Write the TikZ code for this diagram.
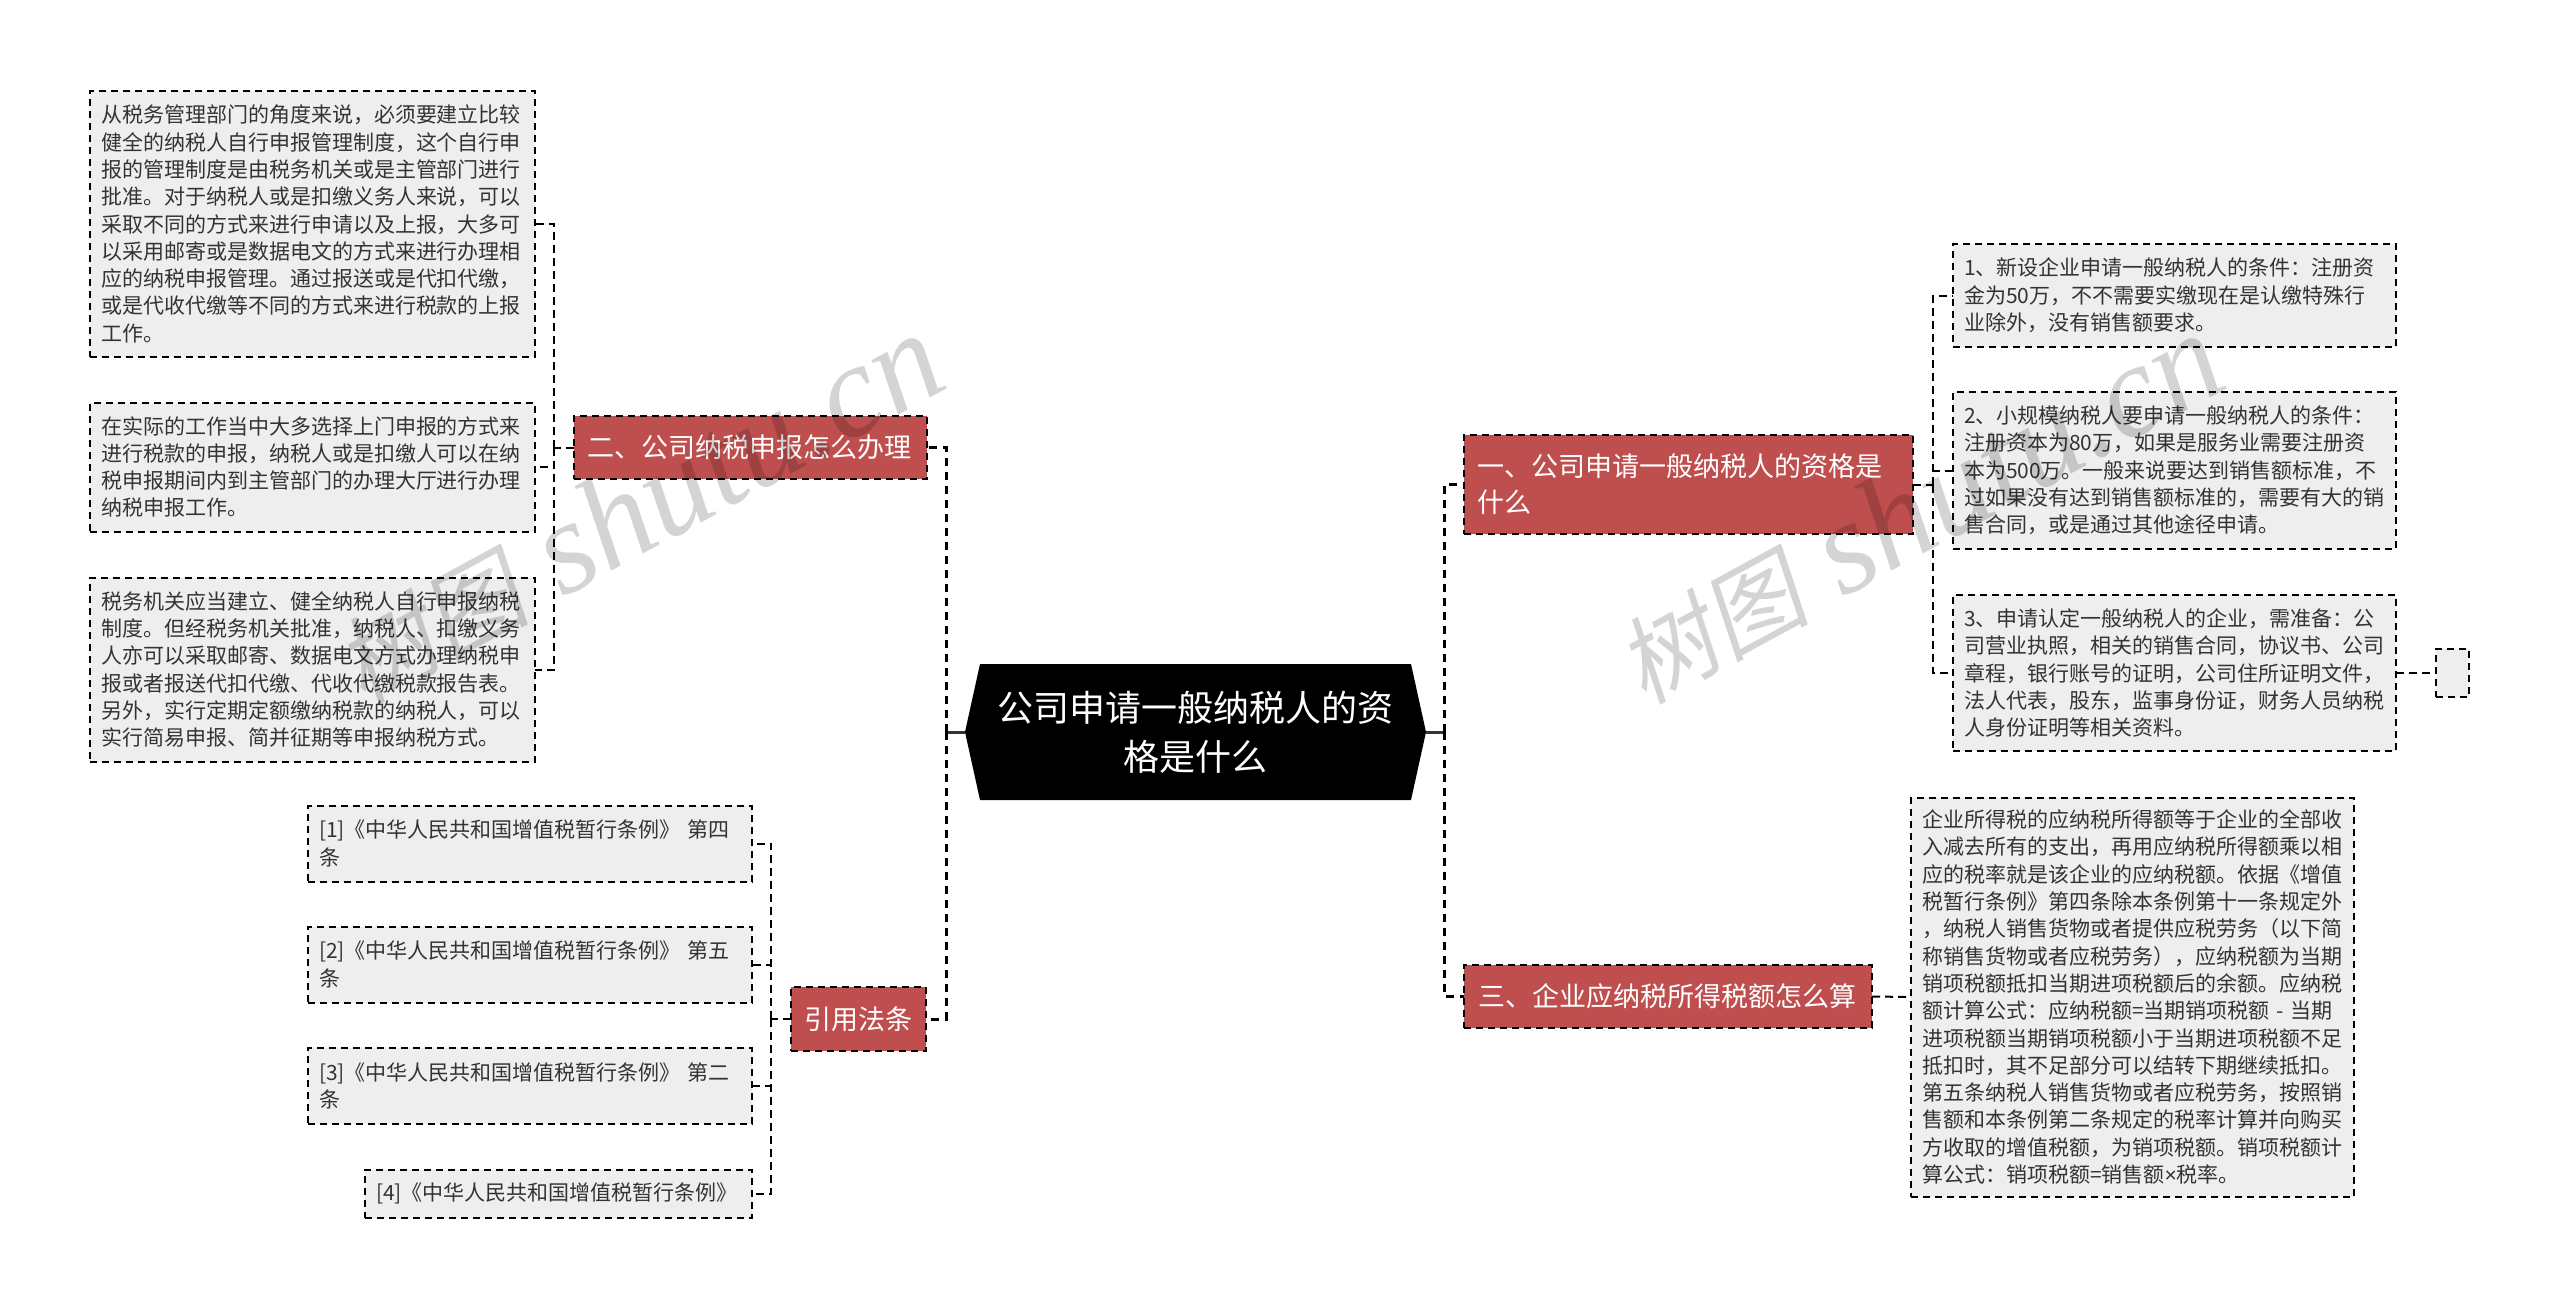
\documentclass[tikz,border=0pt]{standalone}
\usepackage{fontspec}
\setmainfont{Noto Sans CJK SC}
\newfontfamily\wmcjk[FakeSlant=0.18]{Noto Sans CJK SC}
\newfontfamily\wmlatin{Liberation Serif}
\newfontfamily\plainlat{Liberation Sans}
\definecolor{redbox}{HTML}{BF4F4E}
\definecolor{leafbg}{HTML}{EEEEEE}
\definecolor{ink}{HTML}{333333}
\tikzset{
  leaf/.style={draw=black,fill=leafbg,line width=2pt,dash pattern=on 7pt off 5pt,text=ink,
    font=\fontsize{21}{27.3}\selectfont,align=left,inner xsep=11pt,inner ysep=0pt,outer sep=0pt,anchor=center},
  topic/.style={draw=black,fill=redbox,line width=2pt,dash pattern=on 7pt off 5pt,text=white,
    font=\fontsize{27}{36}\selectfont,align=left,inner xsep=0pt,inner ysep=0pt,outer sep=0pt,anchor=center},
  rootbox/.style={text=white,font=\fontsize{36}{49}\selectfont,align=center,inner sep=0pt,outer sep=0pt,
    minimum width=461pt,minimum height=136pt,text width=410pt},
  trunkline/.style={draw=black,line width=3pt,dash pattern=on 8pt off 6pt},
  twig/.style={draw=black,line width=2pt,dash pattern=on 8pt off 5pt},
  rootstub/.style={draw=ink,line width=3pt},
  wmark/.style={text=black,opacity=.17,anchor=base,rotate=28.5,inner sep=0pt}
}
\begin{document}
\begin{tikzpicture}[x=1pt,y=-1pt]
\useasboundingbox (0,0) rectangle (2560,1307);
\fill[white] (0,0) rectangle (2560,1307);

% root
\fill[black] (965,732) -- (980,664) -- (1411,664) -- (1426,732) -- (1411,800) -- (980,800) -- cycle;
\node[rootbox] (root) at (1195.5,732) {公司申请一般纳税人的资\\格是什么};

% topics
\node[topic,minimum width=353pt,minimum height=63pt,text width=327pt] (n2) at (750.5,447.5) {二、公司纳税申报怎么办理};
\node[topic,minimum width=135pt,minimum height=64pt,text width=108pt] (n4) at (858.5,1019) {引用法条};
\node[topic,minimum width=449pt,minimum height=99pt,text width=423pt] (n1) at (1688.5,484.5) {一、公司申请一般纳税人的资格是\\什么};
\node[topic,minimum width=408pt,minimum height=63pt,text width=380pt] (n3) at (1668,996.5) {三、企业应纳税所得税额怎么算};

% left leaves
\node[leaf,text width=423pt,minimum height=266pt] (a1) at (312.5,224) {从税务管理部门的角度来说，必须要建立比较\\健全的纳税人自行申报管理制度，这个自行申\\报的管理制度是由税务机关或是主管部门进行\\批准。对于纳税人或是扣缴义务人来说，可以\\采取不同的方式来进行申请以及上报，大多可\\以采用邮寄或是数据电文的方式来进行办理相\\应的纳税申报管理。通过报送或是代扣代缴，\\或是代收代缴等不同的方式来进行税款的上报\\工作。};
\node[leaf,text width=423pt,minimum height=129pt] (a2) at (312.5,467) {在实际的工作当中大多选择上门申报的方式来\\进行税款的申报，纳税人或是扣缴人可以在纳\\税申报期间内到主管部门的办理大厅进行办理\\纳税申报工作。};
\node[leaf,text width=423pt,minimum height=184pt] (a3) at (312.5,669.5) {税务机关应当建立、健全纳税人自行申报纳税\\制度。但经税务机关批准，纳税人、扣缴义务\\人亦可以采取邮寄、数据电文方式办理纳税申\\报或者报送代扣代缴、代收代缴税款报告表。\\另外，实行定期定额缴纳税款的纳税人，可以\\实行简易申报、简并征期等申报纳税方式。};

\node[leaf,text width=422pt,minimum height=76pt] (b1) at (530,843.5) {[1]《中华人民共和国增值税暂行条例》 第四\\条};
\node[leaf,text width=422pt,minimum height=76pt] (b2) at (530,964.5) {[2]《中华人民共和国增值税暂行条例》 第五\\条};
\node[leaf,text width=422pt,minimum height=76pt] (b3) at (530,1086) {[3]《中华人民共和国增值税暂行条例》 第二\\条};
\node[leaf,text width=365pt,minimum height=48pt] (b4) at (558.5,1193.5) {[4]《中华人民共和国增值税暂行条例》};

% right leaves
\node[leaf,text width=421pt,minimum height=103pt] (c1) at (2174.5,295.5) {1、新设企业申请一般纳税人的条件：注册资\\金为50万，不不需要实缴现在是认缴特殊行\\业除外，没有销售额要求。};
\node[leaf,text width=421pt,minimum height=157pt] (c2) at (2174.5,470.5) {2、小规模纳税人要申请一般纳税人的条件：\\注册资本为80万，如果是服务业需要注册资\\本为500万。一般来说要达到销售额标准，不\\过如果没有达到销售额标准的，需要有大的销\\售合同，或是通过其他途径申请。};
\node[leaf,text width=421pt,minimum height=156pt] (c3) at (2174.5,673) {3、申请认定一般纳税人的企业，需准备：公\\司营业执照，相关的销售合同，协议书、公司\\章程，银行账号的证明，公司住所证明文件，\\法人代表，股东，监事身份证，财务人员纳税\\人身份证明等相关资料。};
\node[leaf,inner xsep=0pt,minimum width=33pt,minimum height=48pt] (c4) at (2452.5,673) {};
\node[leaf,text width=421pt,minimum height=399pt] (d1) at (2132.5,997) {企业所得税的应纳税所得额等于企业的全部收\\入减去所有的支出，再用应纳税所得额乘以相\\应的税率就是该企业的应纳税额。依据《增值\\税暂行条例》第四条除本条例第十一条规定外\\，纳税人销售货物或者提供应税劳务（以下简\\称销售货物或者应税劳务），应纳税额为当期\\销项税额抵扣当期进项税额后的余额。应纳税\\额计算公式：应纳税额=当期销项税额 - 当期\\进项税额当期销项税额小于当期进项税额不足\\抵扣时，其不足部分可以结转下期继续抵扣。\\第五条纳税人销售货物或者应税劳务，按照销\\售额和本条例第二条规定的税率计算并向购买\\方收取的增值税额，为销项税额。销项税额计\\算公式：销项税额=销售额{\plainlat ×}税率。};

% junctions
\coordinate (tl) at (946,732);
\coordinate (tr) at (1444.5,732);
\coordinate (ja) at (554,447.5);
\coordinate (jb) at (771,1019);
\coordinate (jc) at (1933,484.5);

% connectors
\draw[rootstub] (root.west) -- (tl);
\draw[rootstub] (root.east) -- (tr);
\draw[trunkline] (tl) |- (n2.east);
\draw[trunkline] (tl) |- (n4.east);
\draw[trunkline] (tr) |- (n1.west);
\draw[trunkline] (tr) |- (n3.west);

\draw[twig] (n2.west) -- (ja);
\draw[twig] (ja) |- (a1.east);
\draw[twig] (ja) |- (a2.east);
\draw[twig] (ja) |- (a3.east);

\draw[twig] (n4.west) -- (jb);
\draw[twig] (jb) |- (b1.east);
\draw[twig] (jb) |- (b2.east);
\draw[twig] (jb) |- (b3.east);
\draw[twig] (jb) |- (b4.east);

\draw[twig] (n1.east) -- (jc);
\draw[twig] (jc) |- (c1.west);
\draw[twig] (jc) |- (c2.west);
\draw[twig] (jc) |- (c3.west);
\draw[twig] (c3.east) -- (c4.west);
\draw[twig] (n3.east) -- (d1.west);

% watermarks
\node[wmark] (wm1) at (658,546) {\fontsize{96}{96}\selectfont{\wmcjk 树图}\hspace{12pt} \fontsize{132}{132}\selectfont{\wmlatin\itshape shutu.cn}};
\node[wmark] (wm2) at (1938,546) {\fontsize{96}{96}\selectfont{\wmcjk 树图}\hspace{12pt} \fontsize{132}{132}\selectfont{\wmlatin\itshape shutu.cn}};
\end{tikzpicture}
\end{document}
